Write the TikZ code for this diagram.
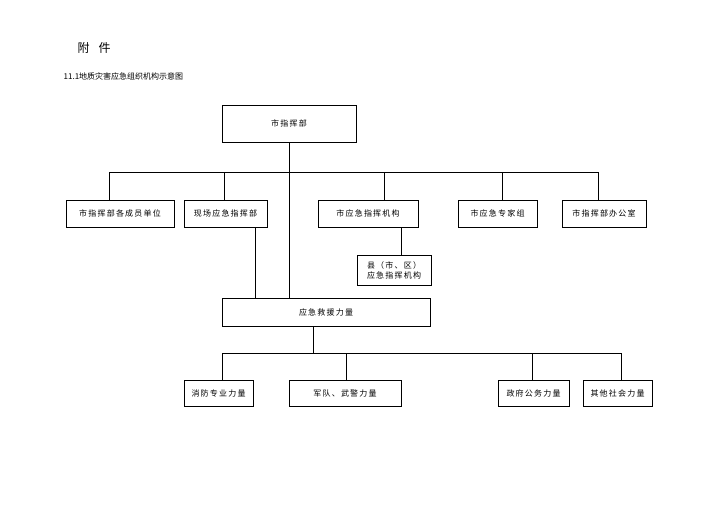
\documentclass[tikz,border=0pt]{standalone}
\usepackage{fontspec}
\setmainfont{Noto Sans CJK SC}[LetterSpace=15]
\newfontfamily\plainf{Noto Sans CJK SC}
\begin{document}
\begin{tikzpicture}[x=1pt,y=-1pt,line width=0.7pt,
  bx/.style={draw,minimum height=#1,inner sep=0pt,font=\fontsize{8}{10}\selectfont,align=center},
  bx/.default=27pt]
\useasboundingbox (0,0) rectangle (713,504);
\node[anchor=west,font=\fontsize{12}{14}\selectfont] (fj) at (74,48) {附\ \ 件};
\node[anchor=west,font=\plainf\fontsize{8}{10}\selectfont] (tt) at (60,76) {11.1地质灾害应急组织机构示意图};
\node[bx=37pt,minimum width=134pt] (top) at (289,123.5) {市指挥部};
\node[bx,minimum width=108pt] (a) at (120,213.5) {市指挥部各成员单位};
\node[bx,minimum width=83pt] (b) at (225.5,213.5) {现场应急指挥部};
\node[bx,minimum width=100pt] (c) at (368,213.5) {市应急指挥机构};
\node[bx,minimum width=79pt] (d) at (497.5,213.5) {市应急专家组};
\node[bx,minimum width=84pt] (e) at (604,213.5) {市指挥部办公室};
\node[bx=30pt,minimum width=74pt] (f) at (394,270) {县（市、区）\\应急指挥机构};
\node[bx=28pt,minimum width=208pt] (g) at (326,312) {应急救援力量};
\node[bx=26pt,minimum width=69pt] (h) at (218.5,393) {消防专业力量};
\node[bx=26pt,minimum width=112pt] (i) at (345,393) {军队、武警力量};
\node[bx=26pt,minimum width=71pt] (j) at (533.5,393) {政府公务力量};
\node[bx=26pt,minimum width=69pt] (k) at (617.5,393) {其他社会力量};
\coordinate (t1) at (109,172);
\coordinate (t2) at (598,172);
\draw (t1) -- (t2);
\draw (109,172) -- (109,200);
\draw (224,172) -- (224,200);
\draw (384,172) -- (384,200);
\draw (502,172) -- (502,200);
\draw (598,172) -- (598,200);
\draw (top.south) -- (g.north -| top.south);
\draw (255,227) -- (255,298);
\draw (401,227) -- (401,255);
\draw (313,326) -- (313,353);
\draw (222,353) -- (621,353);
\draw (222,353) -- (222,380);
\draw (346,353) -- (346,380);
\draw (532,353) -- (532,380);
\draw (621,353) -- (621,380);
\end{tikzpicture}
\end{document}
